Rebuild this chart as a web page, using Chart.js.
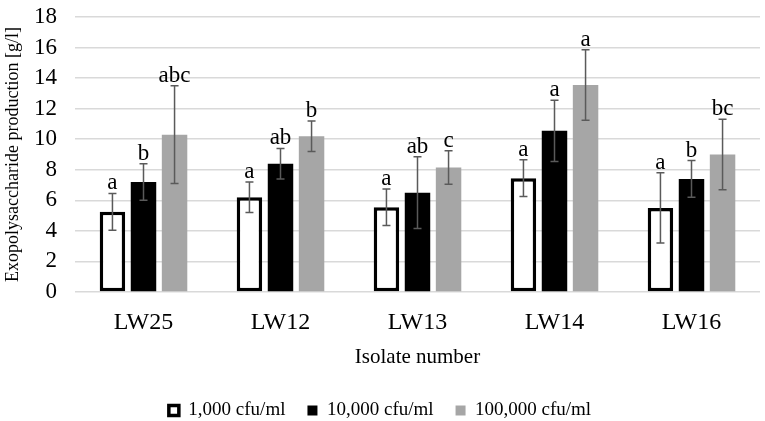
<!DOCTYPE html>
<html>
<head>
<meta charset="utf-8">
<script src="https://cdn.jsdelivr.net/npm/chart.js@4.4.1/dist/chart.umd.min.js"></script>
<style>
html,body{margin:0;padding:0;background:#fff;}
#wrap{width:765px;height:421px;}
</style>
</head>
<body>
<div id="wrap"><canvas id="c" width="765" height="421"></canvas></div>
<script>
const categories = ["LW25", "LW12", "LW13", "LW14", "LW16"];
const seriesNames = ["1,000 cfu/ml", "10,000 cfu/ml", "100,000 cfu/ml"];
const values1k   = [5.25, 6.2, 5.55, 7.45, 5.5];
const values10k  = [7.2, 8.4, 6.5, 10.55, 7.4];
const values100k = [10.3, 10.2, 8.15, 13.55, 9.0];
const err1k   = [1.2, 1.0, 1.2, 1.2, 2.3];
const err10k  = [1.2, 1.0, 2.35, 2.0, 1.2];
const err100k = [3.2, 1.0, 1.1, 2.3, 2.3];
const letters1k   = ["a", "a", "a", "a", "a"];
const letters10k  = ["b", "ab", "ab", "a", "b"];
const letters100k = ["abc", "b", "c", "a", "bc"];
const yTicks = [0, 2, 4, 6, 8, 10, 12, 14, 16, 18];

const errs = [err1k, err10k, err100k];
const lets = [letters1k, letters10k, letters100k];
const FONT = "'Liberation Serif', 'Times New Roman', serif";

const errorPlugin = {
  id: 'errbars',
  afterDatasetsDraw(chart) {
    const ctx = chart.ctx;
    const ys = chart.scales.y;
    chart.data.datasets.forEach((ds, i) => {
      const meta = chart.getDatasetMeta(i);
      meta.data.forEach((bar, j) => {
        const v = ds.data[j], e = errs[i][j];
        const x = bar.x;
        const yTop = ys.getPixelForValue(v + e);
        const yBot = ys.getPixelForValue(v - e);
        ctx.save();
        ctx.strokeStyle = '#5a5a5a';
        ctx.lineWidth = 1.5;
        ctx.beginPath();
        ctx.moveTo(x, yTop); ctx.lineTo(x, yBot);
        ctx.moveTo(x - 4, yTop); ctx.lineTo(x + 4, yTop);
        ctx.moveTo(x - 4, yBot); ctx.lineTo(x + 4, yBot);
        ctx.stroke();
        ctx.fillStyle = '#000';
        ctx.font = '23px ' + FONT;
        ctx.textAlign = 'center';
        ctx.textBaseline = 'alphabetic';
        ctx.fillText(lets[i][j], x, yTop - 4);
        ctx.restore();
      });
    });
  }
};

new Chart(document.getElementById('c'), {
  type: 'bar',
  data: {
    labels: categories,
    datasets: [
      { label: seriesNames[0], data: values1k, backgroundColor: '#ffffff', borderColor: '#000000', borderWidth: 3.5, borderSkipped: false },
      { label: seriesNames[1], data: values10k, backgroundColor: '#000000', borderColor: '#000000', borderWidth: 0 },
      { label: seriesNames[2], data: values100k, backgroundColor: '#a6a6a6', borderColor: '#a6a6a6', borderWidth: 0 }
    ]
  },
  options: {
    responsive: false,
    animation: false,
    devicePixelRatio: 1,
    layout: { padding: { top: 17, right: 5, left: 0, bottom: -9 } },
    datasets: { bar: { categoryPercentage: 0.68, barPercentage: 0.82 } },
    scales: {
      x: {
        grid: { display: false },
        border: { display: false },
        ticks: { color: '#000', font: { family: FONT, size: 24 }, padding: 8 },
        title: { display: true, text: 'Isolate number', color: '#000', font: { family: FONT, size: 21 }, padding: { top: 0, bottom: 9 } }
      },
      y: {
        min: 0, max: 18,
        afterBuildTicks(axis) { axis.ticks = yTicks.map(v => ({ value: v })); },
        afterFit(axis) { axis.width = 75; axis.paddingTop = 0; axis.paddingBottom = 0; },
        grid: { color: '#d9d9d9', lineWidth: 1.5, drawTicks: false },
        border: { display: false },
        ticks: { color: '#000', font: { family: FONT, size: 23 }, padding: 18, autoSkip: false },
        title: { display: true, text: 'Exopolysaccharide production [g/l]', color: '#000', font: { family: FONT, size: 18 }, padding: { top: 2, bottom: 0 } }
      }
    },
    plugins: {
      legend: {
        position: 'bottom',
        labels: { color: '#000', font: { family: FONT, size: 19 }, boxWidth: 10, boxHeight: 10, padding: 22 }
      },
      tooltip: { enabled: false }
    }
  },
  plugins: [errorPlugin]
});
</script>
</body>
</html>
